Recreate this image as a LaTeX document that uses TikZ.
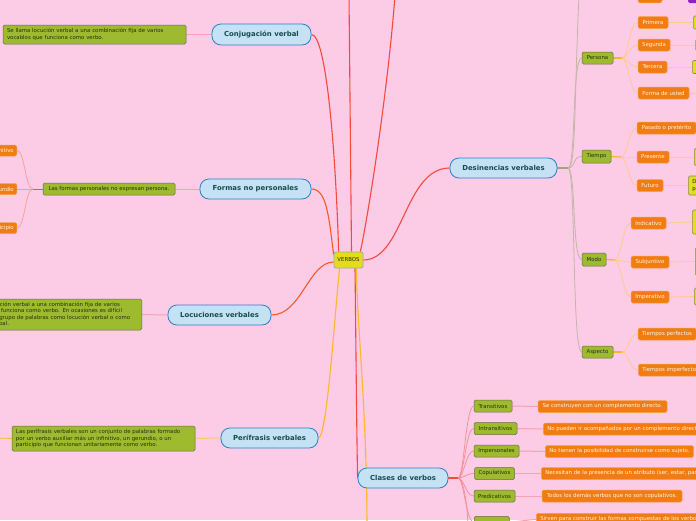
\documentclass[tikz,border=0pt]{standalone}
\usepackage{fontspec}
\setmainfont{DejaVu Sans}
\pgfdeclarelayer{bglayer}
\pgfdeclarelayer{edges}
\pgfsetlayers{bglayer,edges,main}
\definecolor{bgpink}{HTML}{FCCBE5}
\definecolor{mainfill}{HTML}{C4E2F4}
\definecolor{mainborder}{HTML}{2E82C4}
\definecolor{maintext}{HTML}{174A50}
\definecolor{gfill}{HTML}{9EBA2E}
\definecolor{gborder}{HTML}{6E6A48}
\definecolor{gtext}{HTML}{2A2E10}
\definecolor{ofill}{HTML}{F27C12}
\definecolor{oborder}{HTML}{F7A050}
\definecolor{otext}{HTML}{FFF4E6}
\definecolor{yfill}{HTML}{E2DC22}
\definecolor{yborder}{HTML}{8C8A58}
\definecolor{vfill}{HTML}{E2DB20}
\definecolor{vborder}{HTML}{A0A8A8}
\definecolor{pfill}{HTML}{8A22C4}
\definecolor{grfill}{HTML}{C8C0B8}
\definecolor{grborder}{HTML}{A09890}
\definecolor{cred}{HTML}{F24A3C}
\definecolor{corange}{HTML}{F05A2C}
\definecolor{cyellow}{HTML}{FFB826}
\definecolor{cpink}{HTML}{F7A3AE}
\definecolor{cpaley}{HTML}{FFC870}
\definecolor{cpaleo}{HTML}{FFCA85}
\definecolor{cporstub}{HTML}{FFB22E}
\definecolor{cgray}{HTML}{C3B6A8}
\definecolor{cgstub}{HTML}{A3A283}
\definecolor{cclsln}{HTML}{F58C94}
\definecolor{cfln}{HTML}{F5A090}
\newcommand\MMfont{\fontsize{6.9}{8}\selectfont\bfseries}
\newcommand\SSfont{\fontsize{5.4}{6.5}\selectfont}
\newlength\LocCut
\newlength\LocTW
\AtBeginDocument{%
  \settowidth\LocCut{\normalfont\SSfont Se llama locu}%
  \setlength\LocTW{\dimexpr 138pt+\LocCut\relax}%
}
\tikzset{
  mainbox/.style={draw=mainborder, fill=mainfill, line width=0.8pt, rounded corners=9pt, font=\MMfont, text=maintext, inner sep=0pt},
  gbox/.style={draw=gborder, fill=gfill, line width=0.5pt, rounded corners=1.5pt, font=\SSfont, text=gtext, inner xsep=4pt, inner ysep=0pt},
  obox/.style={draw=oborder, fill=ofill, line width=0.5pt, rounded corners=1.5pt, font=\SSfont, text=otext, inner xsep=4pt, inner ysep=0pt},
  ybox/.style={draw=yborder, fill=yfill, line width=0.6pt, rounded corners=1.5pt, font=\SSfont, text=gtext, inner xsep=4pt, inner ysep=0pt},
  grbox/.style={draw=grborder, fill=grfill, line width=0.6pt, rounded corners=1.5pt, inner sep=0pt},
  pubox/.style={draw=pfill, fill=pfill, line width=0.5pt, rounded corners=1.5pt, inner sep=0pt},
  vbox/.style={draw=vborder, fill=vfill, line width=0.7pt, rounded corners=2pt, font=\SSfont, text=gtext, inner sep=0pt},
  redline/.style={draw=cred, line width=1.1pt},
  orline/.style={draw=corange, line width=1.1pt},
  yline/.style={draw=cyellow, line width=1.1pt},
  pinkln/.style={draw=cpink, line width=1pt},
  pyln/.style={draw=cpaley, line width=1pt},
  grayln/.style={draw=cgray, line width=0.8pt},
  dstub/.style={draw=cgstub, line width=1.3pt},
  porln/.style={draw=cpaleo, line width=0.7pt},
  porstub/.style={draw=cporstub, line width=1.2pt},
  clsln/.style={draw=cclsln, line width=0.7pt},
  clsstub/.style={draw=cred, line width=1.1pt},
  fln/.style={draw=cfln, line width=0.7pt},
  fstub/.style={draw=corange, line width=1pt},
}
\begin{document}
\begin{tikzpicture}[x=1pt, y=-1pt]
\begin{pgfonlayer}{bglayer}
\fill[bgpink] (0,0) rectangle (696,520);
\end{pgfonlayer}
\useasboundingbox (0,0) rectangle (696,520);

% central
\node[vbox, minimum width=29pt, minimum height=16pt] (verbos) at (348.5,260) {VERBOS};

% left side
\node[mainbox, minimum width=99pt, minimum height=21pt] (conj) at (261.5,34.5) {Conjugación verbal};
\node[gbox, text width=175pt, align=left, minimum height=19pt] (conjdesc) at (94.5,34.5) {Se llama locución verbal a una combinación fija de varios\\vocablos que funciona como verbo.};

\node[mainbox, minimum width=111pt, minimum height=20pt] (formas) at (255.5,189) {Formas no personales};
\node[gbox, minimum width=132pt, minimum height=12pt] (fdesc) at (109,189) {Las formas personales no expresan persona.};
\node[obox, anchor=east, text width=36pt, align=right, minimum height=11pt, inner xsep=3pt] (inf) at (17,150.5) {Infinitivo};
\node[obox, anchor=east, text width=36pt, align=right, minimum height=11pt, inner xsep=3pt] (ger) at (17,189) {Gerundio};
\node[obox, anchor=east, text width=36pt, align=right, minimum height=11pt, inner xsep=3pt] (part) at (17,228) {Participio};

\node[mainbox, minimum width=103pt, minimum height=20pt] (locu) at (219.5,315) {Locuciones verbales};
\node[gbox, anchor=east, text width=\LocTW, align=left, minimum height=31pt] (locdesc) at (142,314.5) {Se llama locución verbal a una combinación fija de varios\\vocablos que funciona como verbo. En ocasiones es difícil\\distinguir un grupo de palabras como locución verbal o como\\perífrasis verbal.};

\node[mainbox, minimum width=97pt, minimum height=20pt] (peri) at (269.5,438) {Perífrasis verbales};
\node[gbox, text width=175pt, align=left, minimum height=25pt] (peridesc) at (103.5,438.5) {Las perífrasis verbales son un conjunto de palabras formado\\por un verbo auxiliar más un infinitivo, un gerundio, o un\\participio que funcionan unitariamente como verbo.};

% Desinencias
\node[mainbox, minimum width=107pt, minimum height=20pt] (desin) at (503.5,168) {Desinencias verbales};

\node[gbox, minimum width=31pt, minimum height=12pt] (persona) at (597.5,58) {Persona};
\node[obox, minimum width=30pt, minimum height=12pt] (primera) at (653,22.5) {Primera};
\node[obox, minimum width=32pt, minimum height=12pt] (segunda) at (654,45) {Segunda};
\node[obox, minimum width=29pt, minimum height=12pt] (tercera) at (652.5,67) {Tercera};
\node[obox, minimum width=51pt, minimum height=12pt] (usted) at (663.5,93) {Forma de usted};
\node[obox, anchor=south, minimum width=24pt, minimum height=12pt] (topor) at (650,3) {};
\node[pubox, anchor=south west, minimum width=20pt, minimum height=12pt] (toppu) at (688,3) {};
\node[ybox, anchor=west, minimum width=30pt, minimum height=13pt] (prim2) at (693,22.5) {};
\node[grbox, anchor=west, minimum width=30pt, minimum height=11pt] (seg2) at (695,45) {};
\node[ybox, anchor=west, minimum width=30pt, minimum height=13pt] (ter2) at (692,67) {};
\coordinate (usted2) at (700,93);

\node[gbox, minimum width=29pt, minimum height=13pt] (tiempo) at (596.5,156.5) {Tiempo};
\node[obox, minimum width=59pt, minimum height=12pt] (pasado) at (666.5,128) {Pasado o pretérito};
\node[obox, minimum width=32pt, minimum height=12pt] (presente) at (653,157) {Presente};
\node[obox, minimum width=26pt, minimum height=12pt] (futuro) at (650,185.5) {Futuro};
\node[ybox, anchor=west, minimum width=30pt, minimum height=17pt] (pres2) at (694,157) {};
\node[ybox, anchor=west, text width=22pt, align=left, minimum height=19pt] (fut2) at (688,185.5) {D\\p};

\node[gbox, minimum width=24pt, minimum height=13pt] (modo) at (594,259.5) {Modo};
\node[obox, minimum width=35pt, minimum height=12pt] (indic) at (648.5,223) {Indicativo};
\node[obox, minimum width=38pt, minimum height=12pt] (subj) at (650,262) {Subjuntivo};
\node[obox, minimum width=38pt, minimum height=12pt] (imperat) at (650,297) {Imperativo};
\node[ybox, anchor=west, minimum width=30pt, minimum height=24pt] (ind2) at (692,222) {};
\node[ybox, anchor=west, minimum width=30pt, minimum height=28pt] (subj2) at (695,261.5) {};
\node[ybox, anchor=west, minimum width=30pt, minimum height=17pt] (imp2) at (694,296.5) {};

\node[gbox, minimum width=31pt, minimum height=12pt] (aspecto) at (597.5,352) {Aspecto};
\node[obox, minimum width=58pt, minimum height=12pt] (tperf) at (667,334) {Tiempos perfectos};
\node[obox, anchor=west, minimum height=12pt] (timperf) at (638,370) {Tiempos imperfectos};

% Clases
\node[mainbox, minimum width=90pt, minimum height=20pt] (clases) at (403,478) {Clases de verbos};
\node[gbox, minimum width=38pt, minimum height=12pt] (trans) at (493,406) {Transitivos};
\node[gbox, minimum width=43pt, minimum height=12pt] (intrans) at (495.5,428.5) {Intransitivos};
\node[gbox, minimum width=45pt, minimum height=12pt] (impers) at (496.5,451) {Impersonales};
\node[gbox, minimum width=40pt, minimum height=12pt] (copul) at (494.5,473.5) {Copulativos};
\node[gbox, minimum width=41pt, minimum height=12pt] (predic) at (494.5,496) {Predicativos};
\node[gbox, anchor=north west, minimum width=35pt, minimum height=12pt] (aux) at (474,516) {};
\node[obox, minimum width=129pt, minimum height=12pt] (transd) at (602.5,406.5) {Se construyen con un complemento directo.};
\node[obox, anchor=west, minimum height=12pt] (intransd) at (543,429) {No pueden ir acompañados por un complemento directo.};
\node[obox, minimum width=147pt, minimum height=12pt] (impersd) at (619.5,451.5) {No tienen la posibilidad de construirse como sujeto.};
\node[obox, anchor=west, minimum height=12pt] (copuld) at (541,473.5) {Necesitan de la presencia de un atributo (ser, estar, parecer).};
\node[obox, minimum width=140pt, minimum height=12pt] (predicd) at (612,496) {Todos los demás verbos que no son copulativos.};
\node[obox, anchor=north west, minimum height=12pt] (auxd) at (536,513) {Sirven para construir las formas compuestas de los verbos};

% connectors
\begin{pgfonlayer}{edges}
\coordinate (vtop) at (349,-5);
\coordinate (vtop2) at (395,-5);
\coordinate (ybot) at (367,530);
\draw[redline] (conj.east) .. controls +(15,0) and +(-3,-100) .. ([xshift=5pt]verbos.north west);
\draw[redline] ([xshift=3pt]verbos.north) -- (vtop);
\draw[redline] ([xshift=-3pt]verbos.north east) .. controls +(8,-37) and +(-7,95) .. (vtop2);
\draw[redline] (verbos.east) .. controls +(40,0) and +(-45,0) .. (desin.west);
\draw[orline] (formas.east) .. controls +(15,0) and +(-5,-40) .. ([yshift=-3pt]verbos.north west);
\draw[orline] (locu.east) .. controls +(30,0) and +(-25,0) .. ([yshift=-2pt]verbos.west);
\draw[yline] (peri.east) .. controls +(9,0) and +(-4,32) .. ([xshift=6pt]verbos.south west);
\draw[redline] ([xshift=6.5pt]verbos.south) .. controls +(1,80) and +(-1,-50) .. (clases.west);
\draw[yline] ([xshift=8pt]verbos.south) .. controls +(0,50) and +(0,-120) .. (ybot);

\draw[pinkln] (conjdesc.east) -- (conj.west);
\draw[pinkln] (fdesc.east) -- (formas.west);
\draw[pinkln] (locdesc.east) -- (locu.west);
\draw[pyln] (peridesc.east) -- (peri.west);
\coordinate (pleft) at (-3,438);
\draw[yline, line width=0.8pt] (peridesc.west) -- (pleft);

\coordinate (fhub) at (33,189);
\draw[fstub] (fdesc.west) -- (fhub);
\foreach \n in {inf,ger,part} \draw[fln] (fhub) .. controls +(-8,0) and +(8,0) .. (\n.east);

\coordinate (dhub) at (568,168);
\coordinate (dtop) at (579,-5);
\draw[dstub] (desin.east) -- (dhub);
\foreach \n in {persona,tiempo,modo,aspecto} \draw[grayln] (dhub) .. controls +(8,0) and +(-10,0) .. (\n.west);
\draw[grayln] (dhub) .. controls +(8,0) and +(-5,110) .. (dtop);

\coordinate (phub) at (622,58);
\draw[porstub] (persona.east) -- (phub);
\foreach \n in {primera,segunda,tercera,usted} \draw[porln] (phub) .. controls +(6,0) and +(-8,0) .. (\n.west);
\draw[porln] (primera.east) -- (prim2.west);
\draw[porln] (segunda.east) -- (seg2.west);
\draw[porln] (tercera.east) -- (ter2.west);
\draw[porln] (usted.east) -- (usted2);

\coordinate (thub) at (621,157);
\draw[porstub] (tiempo.east) -- (thub);
\foreach \n in {pasado,presente,futuro} \draw[porln] (thub) .. controls +(6,0) and +(-8,0) .. (\n.west);
\draw[porln] (presente.east) -- (pres2.west);
\draw[porln] (futuro.east) -- (fut2.west);

\coordinate (mhub) at (615,260);
\draw[porstub] (modo.east) -- (mhub);
\foreach \n in {indic,subj,imperat} \draw[porln] (mhub) .. controls +(6,0) and +(-8,0) .. (\n.west);
\draw[porln] (indic.east) -- (ind2.west);
\draw[porln] (subj.east) -- (subj2.west);
\draw[porln] (imperat.east) -- (imp2.west);

\coordinate (ahub) at (622,352);
\draw[porstub] (aspecto.east) -- (ahub);
\foreach \n in {tperf,timperf} \draw[porln] (ahub) .. controls +(6,0) and +(-8,0) .. (\n.west);

\coordinate (chub) at (458,478);
\coordinate (cbot) at (468,530);
\draw[clsstub] (clases.east) -- (chub);
\foreach \n in {trans,intrans,impers,copul,predic,aux} \draw[clsln] (chub) .. controls +(6,0) and +(-8,0) .. (\n.west);
\draw[clsln] (chub) .. controls +(6,0) and +(0,-20) .. (cbot);
\draw[pinkln] (trans.east) -- (transd.west);
\draw[pinkln] (intrans.east) -- (intransd.west);
\draw[pinkln] (impers.east) -- (impersd.west);
\draw[pinkln] (copul.east) -- (copuld.west);
\draw[pinkln] (predic.east) -- (predicd.west);
\draw[pinkln] (aux.east) -- (auxd.west);
\end{pgfonlayer}
\end{tikzpicture}
\end{document}
